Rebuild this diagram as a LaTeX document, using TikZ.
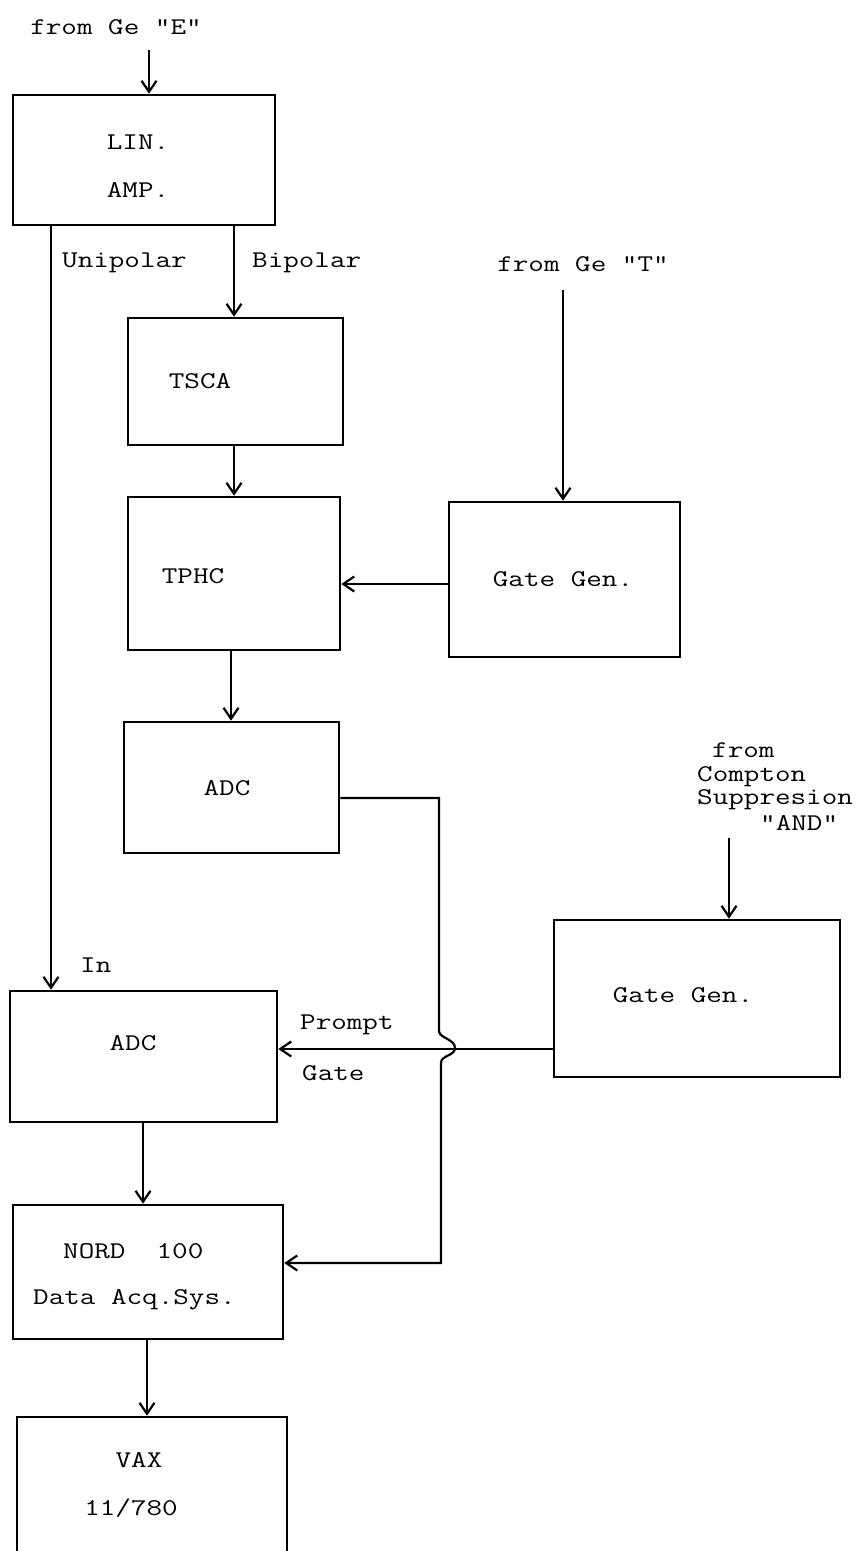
\documentclass[tikz,border=0pt]{standalone}
\usepackage{graphicx}
\usetikzlibrary{arrows.meta}
\newcommand\tw[1]{\scalebox{1.26}[1]{#1}}
\tikzset{
  box/.style={draw, line width=2.6pt, inner sep=0pt, rectangle},
  arr/.style={line width=2.2pt, -{Straight Barb[length=11pt,width=15pt]}},
  lbl/.style={font=\fontsize{24}{28}\selectfont\ttfamily, inner sep=0pt},
}
\begin{document}
\begin{tikzpicture}[x=1pt,y=-1pt]
\useasboundingbox[fill=white] (0,0) rectangle (863,1551);
% boxes
\node[box, minimum width=262pt, minimum height=130pt] (lin) at (144,160) {};
\node[box, minimum width=215pt, minimum height=127pt] (tsca) at (235.5,381.5) {};
\node[box, minimum width=212pt, minimum height=153pt] (tphc) at (234,573.5) {};
\node[box, minimum width=231pt, minimum height=155pt] (gg1) at (564.5,579.5) {};
\node[box, minimum width=215pt, minimum height=131pt] (adc1) at (231.5,787.5) {};
\node[box, minimum width=267pt, minimum height=131pt] (adc2) at (143.5,1056.5) {};
\node[box, minimum width=286pt, minimum height=157pt] (gg2) at (697,998.5) {};
\node[box, minimum width=270pt, minimum height=134pt] (nord) at (148,1272) {};
\node[box, minimum width=270pt, minimum height=163pt] (vax) at (152,1498.5) {};
% texts
\node[lbl] (tE) at (116,27) {\tw{from Ge "E"}};
\node[lbl] (tlin) at (138,142) {\tw{LIN.}};
\node[lbl] (tamp) at (138,190) {\tw{AMP.}};
\node[lbl, anchor=west] (tuni) at (62,263) {\tw{Unipolar}};
\node[lbl, anchor=west] (tbi) at (252,263) {\tw{Bipolar}};
\node[lbl] (ttsca) at (200,381) {\tw{TSCA}};
\node[lbl] (ttphc) at (193,576) {\tw{TPHC}};
\node[lbl] (tgg1) at (563,579) {\tw{Gate Gen.}};
\node[lbl] (tT) at (583,264) {\tw{from Ge "T"}};
\node[lbl] (tadc1) at (227,788) {\tw{ADC}};
\node[lbl, anchor=west] (tfrom) at (712,750) {\tw{from}};
\node[lbl, anchor=west] (tcomp) at (697,777) {\tw{Compton}};
\node[lbl, anchor=west] (tsupp) at (697,800) {\tw{Suppresion}};
\node[lbl, anchor=west] (tand) at (760,823) {\tw{"AND"}};
\node[lbl, anchor=west] (tin) at (80,965) {\tw{In}};
\node[lbl] (tadc2) at (133,1043) {\tw{ADC}};
\node[lbl, anchor=west] (tprompt) at (300,1025) {\tw{Prompt}};
\node[lbl, anchor=west] (tgate) at (302,1073) {\tw{Gate}};
\node[lbl] (tgg2) at (683,995) {\tw{Gate Gen.}};
\node[lbl, anchor=west] (tnord) at (63,1251) {\tw{NORD\ \ 100}};
\node[lbl, anchor=west] (tdata) at (33,1300) {\tw{Data Acq.Sys.}};
\node[lbl] (tvax) at (139,1460) {\tw{VAX}};
\node[lbl] (t780) at (131,1508) {\tw{11/780}};
% free-end coordinates
\coordinate (eIn) at (149,50);
\coordinate (uni) at (51,0);
\coordinate (bip) at (234,0);
\coordinate (tIn) at (563,290);
\coordinate (cIn) at (729,838);
\coordinate (ya) at (0,584);
\coordinate (yb) at (0,1049);
\coordinate (yc) at (0,798);
\coordinate (yd) at (0,1263);
% connectors
\draw[arr] (eIn) -- (eIn |- lin.north);
\draw[arr] (lin.south -| uni) -- (adc2.north -| uni);
\draw[arr] (lin.south -| bip) -- (tsca.north -| bip);
\draw[arr] (tsca.south -| bip) -- (tphc.north -| bip);
\draw[arr] (tphc.south -| 231,0) -- (adc1.north -| 231,0);
\draw[arr] (gg1.west |- ya) -- (tphc.east |- ya);
\draw[arr] (tIn) -- (tIn |- gg1.north);
\draw[arr] (cIn) -- (cIn |- gg2.north);
\draw[arr] (gg2.west |- yb) -- (adc2.east |- yb);
\draw[arr] (adc2.south -| 143,0) -- (nord.north -| 143,0);
\draw[arr] (nord.south -| 147,0) -- (vax.north -| 147,0);
\draw[arr] (adc1.east |- yc) -- (439,798) -- (439,1031)
  .. controls (439,1038) and (455,1039) .. (455,1048)
  .. controls (455,1056) and (441,1055) .. (441,1063)
  -- (441,1263) -- (nord.east |- yd);
\end{tikzpicture}
\end{document}
